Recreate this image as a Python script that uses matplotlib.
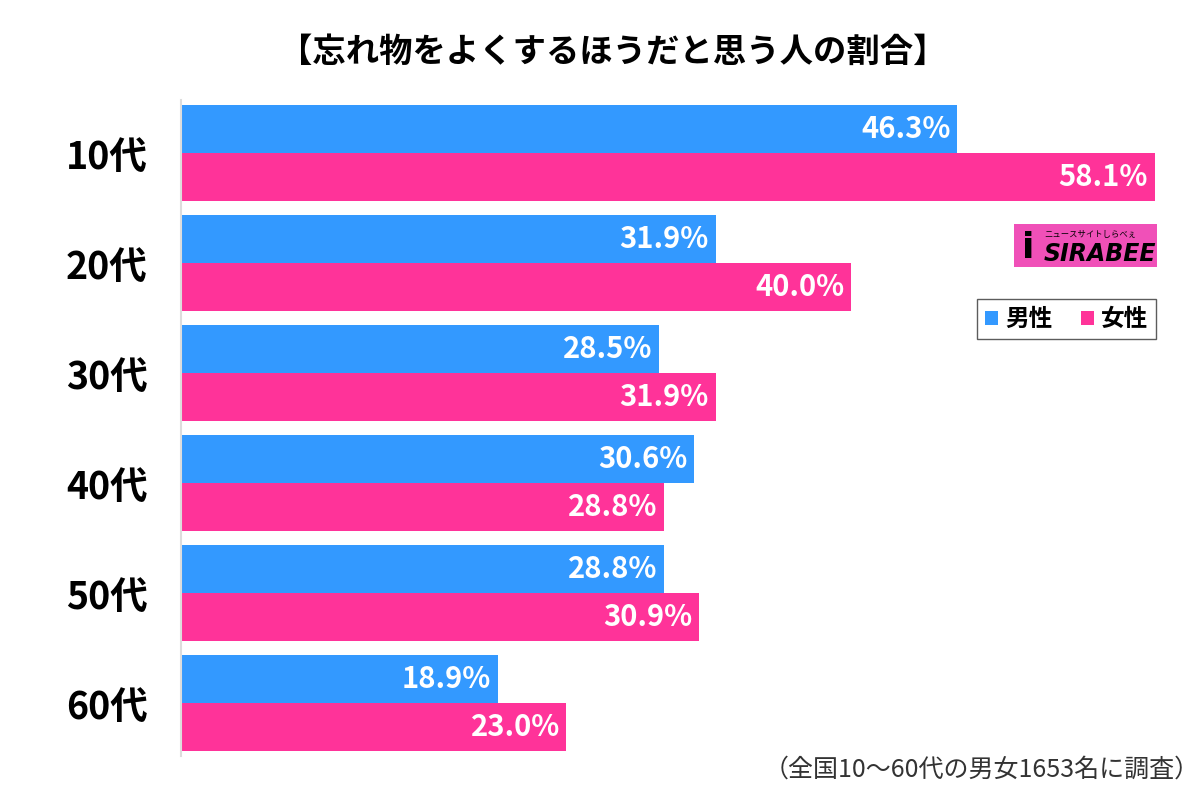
import matplotlib
matplotlib.use("Agg")
import matplotlib.pyplot as plt
from matplotlib.patches import Rectangle
import numpy as np

plt.rcParams['font.family'] = ['Noto Sans CJK JP', 'DejaVu Sans']

categories = ["10代", "20代", "30代", "40代", "50代", "60代"]
male = [46.3, 31.9, 28.5, 30.6, 28.8, 18.9]
female = [58.1, 40.0, 31.9, 28.8, 30.9, 23.0]
series_names = ["男性", "女性"]
title = "【忘れ物をよくするほうだと思う人の割合】"
footnote = "（全国10～60代の男女1653名に調査）"

blue = "#3399FF"
pink = "#FF3399"

W, H = 1200, 793
fig = plt.figure(figsize=(W/100, H/100), dpi=100)
ax = fig.add_axes([181/W, 1-756/H, (1180-181)/W, 656/H])

y = np.arange(len(categories))
bh = 48/110
ax.barh(y - bh/2, male, height=bh, color=blue, label=series_names[0])
ax.barh(y + bh/2, female, height=bh, color=pink, label=series_names[1])

for i in range(len(categories)):
    ax.text(male[i] - 0.4, y[i] - bh/2, f"{male[i]:.1f}%", ha="right", va="center",
            color="white", fontsize=21, fontweight="bold")
    ax.text(female[i] - 0.4, y[i] + bh/2, f"{female[i]:.1f}%", ha="right", va="center",
            color="white", fontsize=21, fontweight="bold")

ax.set_xlim(0, (1180-181)/16.76)
ax.set_ylim(5.482, -0.482)
ax.set_yticks(y)
ax.set_yticklabels(categories, fontsize=27, fontweight="bold")
ax.tick_params(axis="y", length=0, pad=24)
ax.set_xticks([])
for s in ["top", "right", "bottom"]:
    ax.spines[s].set_visible(False)
ax.spines["left"].set_color("#dddddd")
ax.spines["left"].set_linewidth(1.5)

fig.text(0.5 + 13/W, 1-52/H, title, ha="center", va="center", fontsize=24, fontweight="bold")
fig.text(1200/W, 1-770/H, footnote, ha="right", va="center", fontsize=18, color="#333333")

# legend
leg = ax.legend(loc="upper left", bbox_to_anchor=((965-181)/(1180-181), 1-(287-100)/656),
                ncol=2, frameon=True, fancybox=False, edgecolor="#333333",
                handlelength=0.55, handleheight=0.55, handletextpad=0.3, columnspacing=1.2,
                borderpad=0.35, prop={"weight": "bold", "size": 17})
leg.get_frame().set_linewidth(1.0)

# logo
lx0, ly0, lw, lh = 1014, 224, 143, 43
fig.patches.append(Rectangle((lx0/W, 1-(ly0+lh)/H), lw/W, lh/H, transform=fig.transFigure,
                             facecolor="#F050B8", edgecolor="none"))
fig.text((lx0+30)/W, 1-(ly0+30)/H, "SIRABEE", ha="left", va="center", fontsize=17,
         fontweight="bold", style="italic", color="black", family="DejaVu Sans")
fig.text((lx0+30)/W, 1-(ly0+10)/H, "ニュースサイトしらべぇ", ha="left", va="center", fontsize=6, color="black")
fig.text((lx0+14)/W, 1-(ly0+24)/H, "i", ha="center", va="center", fontsize=26,
         fontweight="bold", color="black", family="DejaVu Sans")

fig.savefig("out.png", dpi=100)
